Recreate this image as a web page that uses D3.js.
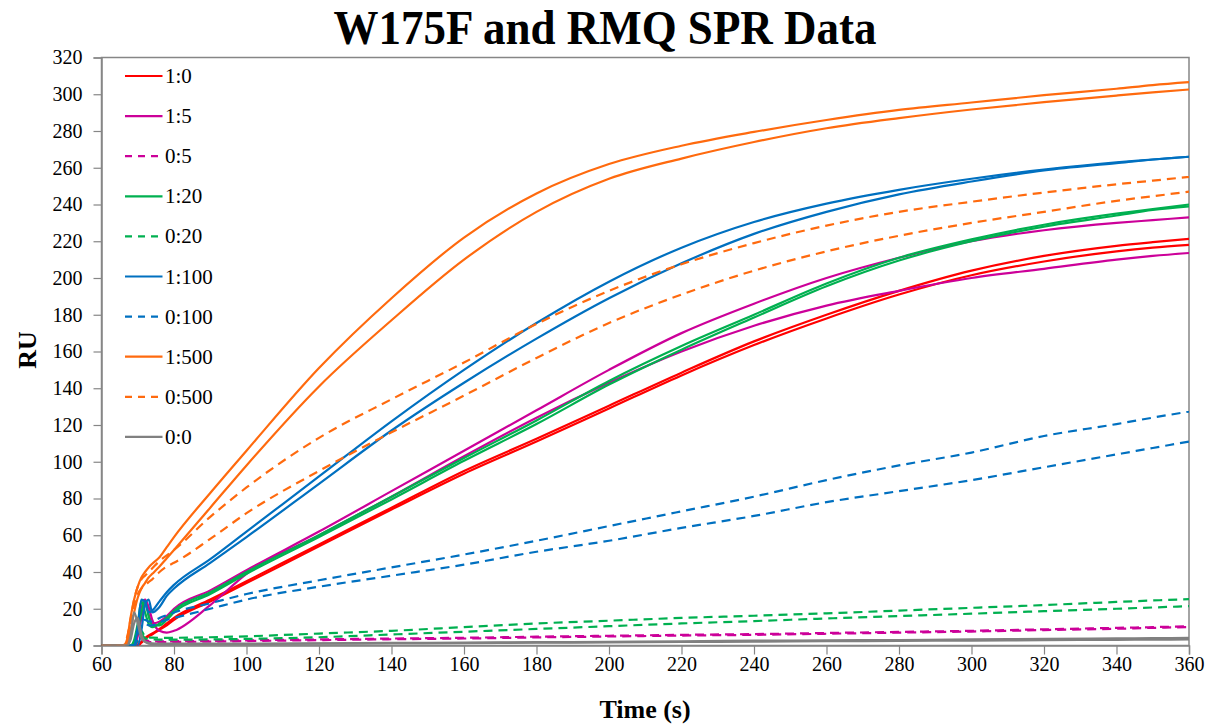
<!DOCTYPE html>
<html><head><meta charset="utf-8">
<script src="https://cdn.jsdelivr.net/npm/d3@7"></script>
<style>
html,body{margin:0;padding:0;background:#fff;}
svg{display:block;}
svg text{font-family:'Liberation Serif','Times New Roman',serif !important;}
</style></head>
<body>
<svg id="chart" width="1215" height="725"></svg>
<script>
// ---------- DATA ----------
const times = [60,66,67,68,69,70,71,72,73,74,76,78,80,90,100,120,140,160,180,200,220,240,260,280,300,320,340,350,360];

const r1a   = [0,0,0,0,0,0.5,2,4,5.5,6.5,9,12,15,25,35,55,75,95,112.5,130.5,148.5,165.5,180,193,204,212,217.5,219.5,221.3];
const r1b   = [0,0,0,0,0,0,1.5,3.5,5,6,8.5,11,14,24,34,54,74,93.5,111,129,147,163.5,178,191,201.5,209,214.5,216.5,218];
const m15a  = [0,0,0,0,0,8,20,25,17,12,13,16,20,30,41,62,84,106,128,150,170,186,200,211,220,226,230,231.5,233];
const m15b  = [0,0,0,0,0,5,15,25,21,14,8,7,8,22,39,60,81,103,124,143,160,174,185,193,200,205,210,212,213.6];
const m05a  = [0,0,0,0,0,3,5,3,2.5,2.2,2.2,2.2,2.3,2.5,2.8,3.3,3.8,4.2,4.8,5.3,5.8,6.2,6.8,7.4,8,8.8,9.6,10,10.5];
const m05b  = [0,0,0,0,0,2,4,2.5,2,1.8,1.8,1.8,1.9,2.1,2.4,2.9,3.4,3.8,4.4,4.9,5.4,5.8,6.4,7,7.6,8.4,9.1,9.6,10];
const g120a = [0,0,0,0,3,12,24,18,12,10,12,15,19,29,40,60,81,102,122.5,144,163,180,197,211,221,229,235,237.5,240];
const g120b = [0,0,0,0,2,8,18,24,16,11,11,14,18,28,39,59,79.5,100.5,120.5,142,161,178.5,195.5,209.5,220,228,234,237,239];
const g020a = [0,0,0,0,0,4,8,5,4.5,4.3,4.2,4.2,4.2,4.5,5,6.5,8,10,12,13.5,15,16.2,17.5,19,20.5,22,23.7,24.5,25.2];
const g020b = [0,0,0,0,0,3,6,4,3.5,3.3,3.2,3.2,3.2,3.3,3.6,4.5,6,7.5,9,10.5,12,13.3,14.7,16,17.3,18.7,20,20.7,21.4];
const b1100a= [0,0,0,0,0,10,25,24,18,19,24,29,33,47,62,92,122,150,175.5,198,216.5,230.5,240.5,248,254,259,263,264.5,266];
const b1100b= [0,0,0,0,0,0,8,22,25,18,21,27,31,45,59,88,117,143,167,189,208,224,236,245.5,252.5,258.5,262.5,264.5,266];
const b0100a= [0,0,0,0,0,5,12,14,13,13,15,16.5,18,23,28,35.5,42.5,49.5,57,65,73,81,90,98,105,114,120.5,124,127.3];
const b0100b= [0,0,0,0,0,4,10,12,11,11,12.5,14,15,20,25,32,38,44,51,57,64,70.5,78,84,90,97,104,107.5,111];
const o1500a= [0,0,3,15,25,32,37,40,42.5,44.5,48,53.5,59,83,106,151,189,222,246,262,272,279.5,286,291.5,295.5,299.5,303,305,306.6];
const o1500b= [0,0,1,8,18,26,31,34,37,39,43,47.5,52,75,98,141,177,210,236,254,265,274,281.5,287,291.7,295.7,299.3,301,302.6];
const o0500a= [0,0,4,14,25,32,36,38,40,42,46,49,52,70,86,113,134,154,175,193,207.5,219,228.5,236,241.5,246.5,251,253,255];
const o0500b= [0,0,3,12,22,28,31,33,34.5,36,40,43,45,58,72,95,116,136,156.5,175.5,191,204,214.5,223,230,236,242,244.5,247];
const gr00a = [0,0,0,5,18,12,4,2,1.5,1.2,1,1,1,1,1,1.2,1.4,1.6,1.8,2,2.3,2.6,2.8,3,3.3,3.6,3.9,4,4.1];
const gr00b = [0,0,0,3,12,15,6,2,1,0.8,0.8,0.8,0.8,0.8,0.8,1,1.1,1.3,1.5,1.7,1.9,2.1,2.3,2.5,2.7,2.9,3.1,3.2,3.3];

const legendLabels = ["1:0","1:5","0:5","1:20","0:20","1:100","0:100","1:500","0:500","0:0"];
const legendColors = ["#FF0000","#CC0099","#CC0099","#00B050","#00B050","#0070C0","#0070C0","#FF6A0E","#FF6A0E","#808080"];
const legendDashed = [false,false,true,false,true,false,true,false,true,false];
const seriesData = [[r1a,r1b],[m15a,m15b],[m05a,m05b],[g120a,g120b],[g020a,g020b],[b1100a,b1100b],[b0100a,b0100b],[o1500a,o1500b],[o0500a,o0500b],[gr00a,gr00b]];

const xTicks = d3.range(60, 361, 20);
const yTicks = d3.range(0, 321, 20);

// ---------- LAYOUT ----------
const FONT = "'Liberation Serif','Times New Roman',serif";
const svg = d3.select("#chart");
const L = 101.5, R = 1189, T = 57.5, B = 645.5;
const x = d3.scaleLinear().domain([60,360]).range([L,R]);
const y = d3.scaleLinear().domain([0,320]).range([B,T]);

// frame
svg.append("rect").attr("x",L).attr("y",T).attr("width",R-L).attr("height",B-T)
  .attr("fill","#fff").attr("stroke","#868686").attr("stroke-width",1.5);

// axes
const yAxis = svg.append("g").attr("transform",`translate(${L},0)`)
  .call(d3.axisLeft(y).tickValues(yTicks).tickSize(8).tickPadding(11).tickFormat(d3.format("d")));
const xAxis = svg.append("g").attr("transform",`translate(0,${B})`)
  .call(d3.axisBottom(x).tickValues(xTicks).tickSize(9).tickPadding(2).tickFormat(d3.format("d")));
[yAxis,xAxis].forEach(a=>{
  a.attr("font-family",null).style("font-family",FONT);
  a.select(".domain").attr("stroke","#868686").attr("stroke-width",1.5);
  a.selectAll(".tick line").attr("stroke","#868686").attr("stroke-width",1.2);
  a.selectAll(".tick text").style("font-family",FONT).attr("font-size",20).attr("fill","#000");
});

// clip
svg.append("clipPath").attr("id","clip").append("rect")
  .attr("x",L).attr("y",T-4).attr("width",R-L).attr("height",B-T+4);

const line = d3.line().x((d,i)=>x(times[i])).y(d=>y(d)).curve(d3.curveMonotoneX);
const plot = svg.append("g").attr("clip-path","url(#clip)");
seriesData.forEach((pair,k)=>{
  pair.forEach(arr=>{
    plot.append("path").attr("d",line(arr)).attr("fill","none")
      .attr("stroke",legendColors[k]).attr("stroke-width",2.2)
      .attr("stroke-dasharray",legendDashed[k]?"9,6":null)
      .attr("stroke-linejoin","round");
  });
});

// legend
const lg = svg.append("g");
legendLabels.forEach((lab,i)=>{
  const yy = 76 + i*40.1;
  lg.append("line").attr("x1",125).attr("x2",162.5).attr("y1",yy).attr("y2",yy)
    .attr("stroke",legendColors[i]).attr("stroke-width",2.2)
    .attr("stroke-dasharray",legendDashed[i]?"7,6":null);
  lg.append("text").attr("x",165).attr("y",yy+7).attr("font-size",21).style("font-family",FONT)
    .attr("fill","#000").text(lab);
});

// titles
svg.append("text").attr("x",605).attr("y",44).attr("text-anchor","middle").style("font-family",FONT)
  .attr("font-size",48).attr("font-weight","bold").attr("textLength",543)
  .attr("lengthAdjust","spacingAndGlyphs").text("W175F and RMQ SPR Data");
svg.append("text").attr("x",645).attr("y",718).attr("text-anchor","middle").style("font-family",FONT)
  .attr("font-size",26).attr("font-weight","bold").text("Time (s)");
svg.append("text").attr("transform","translate(36,350) rotate(-90)").attr("text-anchor","middle").style("font-family",FONT)
  .attr("font-size",26).attr("font-weight","bold").text("RU");
</script>
</body></html>
